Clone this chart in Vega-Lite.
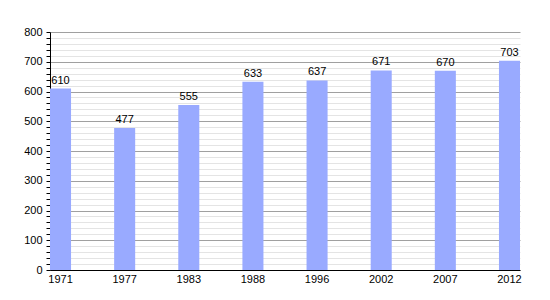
{
  "$schema": "https://vega.github.io/schema/vega-lite/v6.json",
  "width": 470,
  "height": 238,
  "autosize": {"type": "none"},
  "padding": {"left": 50, "top": 32, "right": 30, "bottom": 30},
  "background": "white",
  "config": {
    "view": {"stroke": null},
    "font": "Liberation Sans"
  },
  "data": {
    "values": [
      {"year": "1971", "pop": 610},
      {"year": "1977", "pop": 477},
      {"year": "1983", "pop": 555},
      {"year": "1988", "pop": 633},
      {"year": "1996", "pop": 637},
      {"year": "2002", "pop": 671},
      {"year": "2007", "pop": 670},
      {"year": "2012", "pop": 703}
    ]
  },
  "encoding": {
    "x": {
      "field": "year",
      "type": "ordinal",
      "sort": null,
      "scale": {"paddingInner": 0.672, "paddingOuter": 0},
      "axis": {
        "title": null,
        "labelAngle": 0,
        "ticks": false,
        "domainColor": "black",
        "labelColor": "black",
        "labelFontSize": 11,
        "labelPadding": 3
      }
    },
    "y": {
      "field": "pop",
      "type": "quantitative",
      "scale": {"domain": [0, 800], "nice": false},
      "axis": {
        "title": null,
        "values": [0,20,40,60,80,100,120,140,160,180,200,220,240,260,280,300,320,340,360,380,400,420,440,460,480,500,520,540,560,580,600,620,640,660,680,700,720,740,760,780,800],
        "labelExpr": "datum.value % 100 === 0 ? datum.label : ''",
        "domainColor": "black",
        "tickColor": "black",
        "tickSize": 4,
        "labelColor": "black",
        "labelFontSize": 11,
        "labelPadding": 4,
        "grid": true,
        "gridColor": {"condition": {"test": "datum.value % 100 === 0", "value": "#a0a0a0"}, "value": "#e4e4e4"},
        "gridWidth": 1
      }
    }
  },
  "layer": [
    {"mark": {"type": "bar", "color": "#99aaff"}},
    {
      "mark": {"type": "text", "dy": -8, "fontSize": 11, "color": "black"},
      "encoding": {"text": {"field": "pop", "type": "quantitative"}}
    }
  ]
}
